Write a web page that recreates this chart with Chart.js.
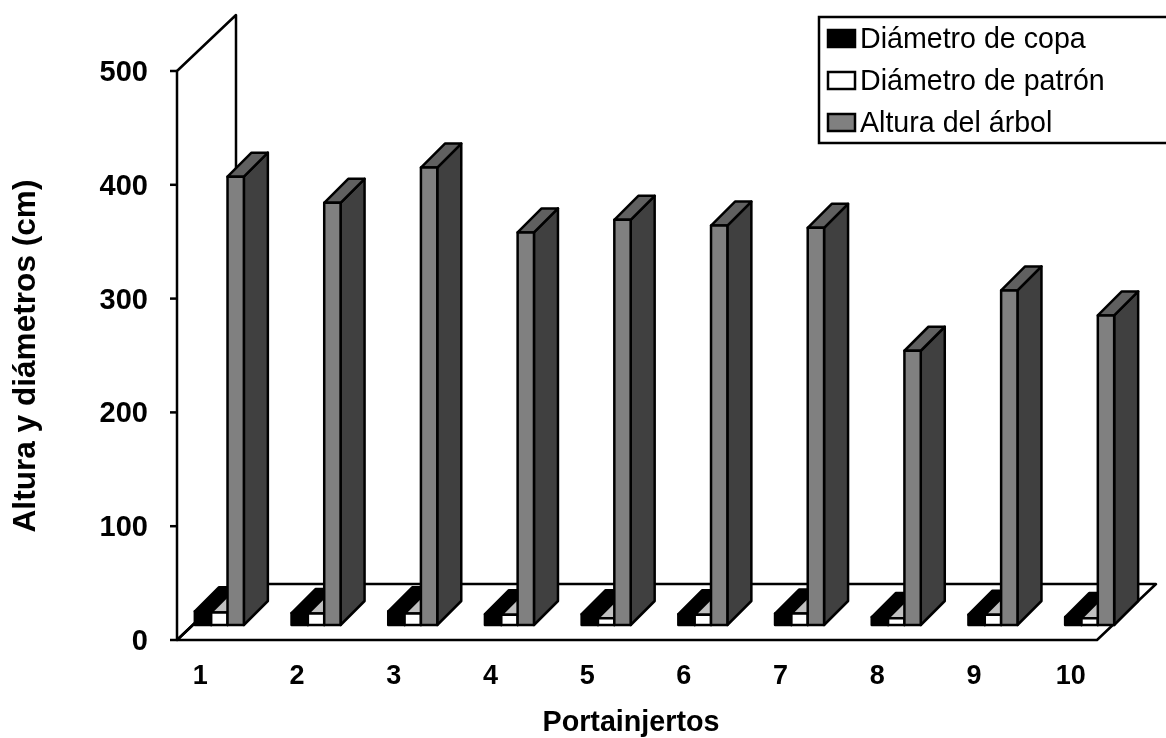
<!DOCTYPE html>
<html>
<head>
<meta charset="utf-8">
<title>Altura y diámetros por portainjerto</title>
<script src="https://cdn.jsdelivr.net/npm/chart.js@4"></script>
<style>
  html, body { margin: 0; background: #fff; }
  canvas { display: block; }
</style>
</head>
<body>
<canvas id="chart" width="1166" height="738"></canvas>
<script>
const categories = ['1', '2', '3', '4', '5', '6', '7', '8', '9', '10']
const seriesNames = ['Diámetro de copa', 'Diámetro de patrón', 'Altura del árbol']
const copa = [12, 10.5, 12, 9.5, 9.5, 9.5, 10, 7, 9, 7]
const patron = [11, 10, 10, 9, 6, 9, 10, 6, 9, 6]
const altura = [394, 371, 402, 345, 356, 351, 349, 241, 294, 272]
const yTicks = [0, 100, 200, 300, 400, 500]

const fontName = '"Liberation Sans", Arial, sans-serif'
const faces = [
    { front: '#000000', side: '#000000', top: '#000000' },
    { front: '#ffffff', side: '#c0c0c0', top: '#c0c0c0' },
    { front: '#808080', side: '#404040', top: '#606060' }
]

// projection of the 3D box, in pixels
const wall = { dx: 59, dy: -56, floorWidth: 920, axisX: 177 }
const shift = { x: 15, y: -15 }
const depth = { x: 24, y: -24 }

function poly(ctx, pts, fill) {
    ctx.beginPath()
    pts.forEach((p, i) => i ? ctx.lineTo(p[0], p[1]) : ctx.moveTo(p[0], p[1]))
    ctx.closePath()
    if (fill) {
        ctx.fillStyle = fill
        ctx.fill()
    }
    ctx.stroke()
}

function drawSides(ctx, meta, face) {
    meta.data.forEach(bar => {
        const l = bar.x - bar.width / 2
        const r = bar.x + bar.width / 2
        const t = bar.y
        const b = bar.base
        poly(ctx, [[r, t], [r + depth.x, t + depth.y], [r + depth.x, b + depth.y], [r, b]], face.side)
        poly(ctx, [[l, t], [l + depth.x, t + depth.y], [r + depth.x, t + depth.y], [r, t]], face.top)
    })
}

function outlineFronts(ctx, meta) {
    meta.data.forEach(bar => {
        ctx.strokeRect(bar.x - bar.width / 2, bar.y, bar.width, bar.base - bar.y)
    })
}

const box3d = {
    id: 'box3d',
    beforeDatasetsDraw(chart) {
        const { ctx, scales: { y } } = chart
        const y0 = y.getPixelForValue(0)
        const yTop = y.getPixelForValue(500)
        const x0 = wall.axisX
        const x1 = x0 + wall.floorWidth

        ctx.save()
        ctx.strokeStyle = '#000'
        ctx.lineWidth = 2.5
        ctx.lineJoin = 'round'
        poly(ctx, [[x0, yTop], [x0 + wall.dx, yTop + wall.dy], [x0 + wall.dx, y0 + wall.dy], [x0, y0]])
        poly(ctx, [[x0, y0], [x1, y0], [x1 + wall.dx, y0 + wall.dy], [x0 + wall.dx, y0 + wall.dy]])
        yTicks.forEach(v => {
            const py = y.getPixelForValue(v)
            ctx.beginPath()
            ctx.moveTo(x0 - 7, py)
            ctx.lineTo(x0, py)
            ctx.stroke()
        })

        // bars stand in the middle of the floor; left series is drawn first
        ctx.translate(shift.x, shift.y)
        faces.forEach((face, i) => {
            const meta = chart.getDatasetMeta(i)
            drawSides(ctx, meta, face)
            meta.controller.draw()
            outlineFronts(ctx, meta)
        })
        ctx.restore()
    },
    // already drawn above, in the right order
    beforeDatasetDraw() {
        return false
    },
    afterDatasetsDraw(chart) {
        const { ctx } = chart

        // legend box runs off the right edge
        ctx.save()
        ctx.strokeStyle = '#000'
        ctx.lineWidth = 2.5
        ctx.strokeRect(819, 17, 360, 126)
        ctx.font = '28.6px ' + fontName
        ctx.textBaseline = 'alphabetic'
        seriesNames.forEach((name, i) => {
            const rowY = 30 + i * 42
            ctx.fillStyle = faces[i].front
            ctx.fillRect(828, rowY, 27, 17)
            ctx.strokeRect(828, rowY, 27, 17)
            ctx.fillStyle = '#000'
            ctx.fillText(name, 860, rowY + 18)
        })

        // axis titles
        ctx.font = 'bold 28.7px ' + fontName
        ctx.textAlign = 'center'
        ctx.textBaseline = 'middle'
        ctx.fillText('Portainjertos', 631, 723)
        ctx.font = 'bold 31.6px ' + fontName
        ctx.translate(26, 356)
        ctx.rotate(-Math.PI / 2)
        ctx.fillText('Altura y diámetros (cm)', 0, 0)
        ctx.restore()
    }
}

new Chart(document.getElementById('chart').getContext('2d'), {
    type: 'bar',
    data: {
        labels: categories,
        datasets: [copa, patron, altura].map((values, i) => ({
            label: seriesNames[i],
            data: values,
            backgroundColor: faces[i].front,
            borderWidth: 0,
            clip: false,
            categoryPercentage: 0.507,
            barPercentage: 1
        }))
    },
    options: {
        responsive: false,
        animation: false,
        layout: { padding: { top: 71, right: 43, bottom: 0, left: 0 } },
        plugins: {
            legend: { display: false },
            tooltip: { enabled: false }
        },
        scales: {
            x: {
                afterFit(scale) { scale.height = 98 },
                grid: { display: false },
                border: { display: false },
                ticks: {
                    color: '#000',
                    font: { family: fontName, size: 27, weight: 'bold' },
                    padding: 12,
                    labelOffset: -4,
                    maxRotation: 0
                }
            },
            y: {
                min: 0,
                max: 500,
                afterFit(scale) { scale.width = 156 },
                grid: { display: false, drawTicks: false },
                border: { display: false },
                ticks: {
                    color: '#000',
                    stepSize: 100,
                    font: { family: fontName, size: 29, weight: 'bold' },
                    padding: 8,
                    labelOffset: 2
                }
            }
        }
    },
    plugins: [box3d]
})
</script>
</body>
</html>
